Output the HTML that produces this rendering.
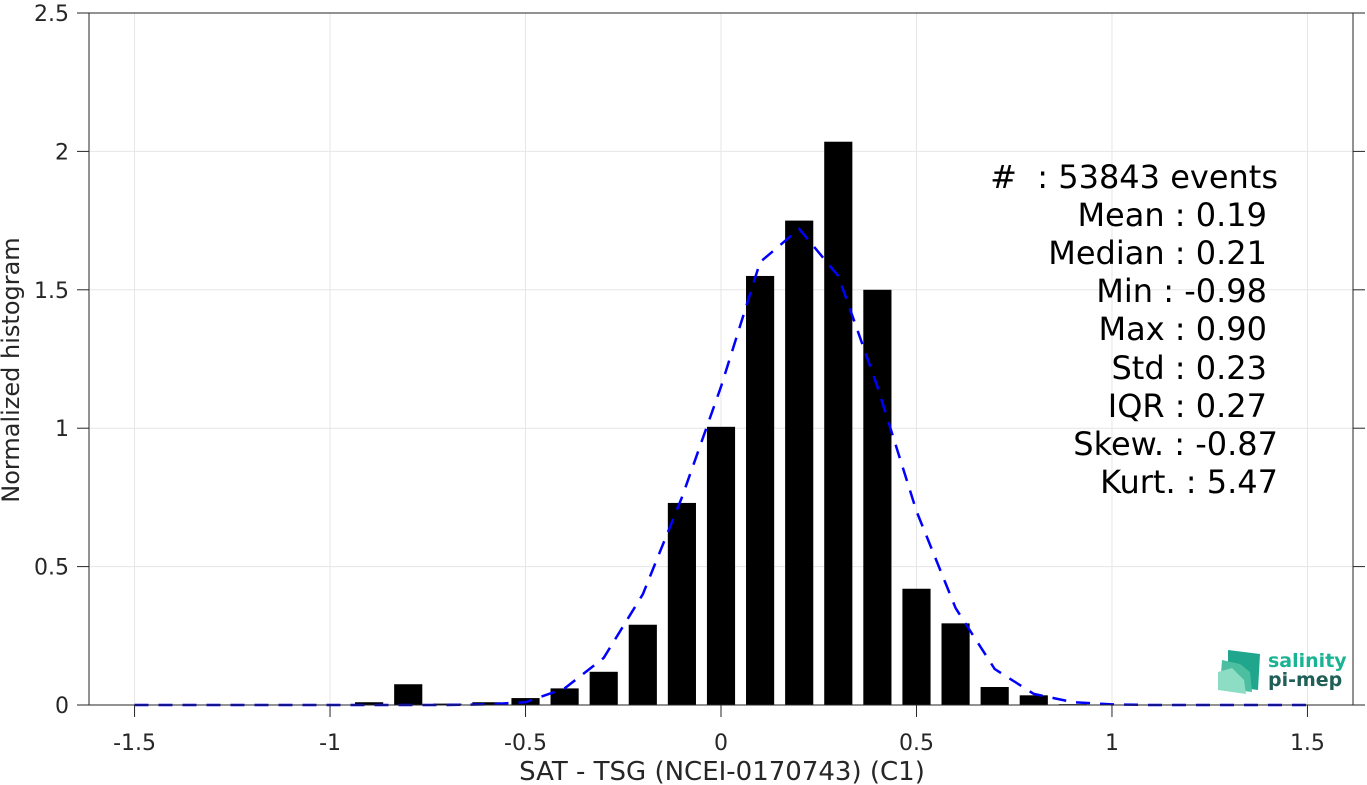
<!DOCTYPE html>
<html><head><meta charset="utf-8"><style>
html,body{margin:0;padding:0;background:#fff}
svg{display:block;font-family:"DejaVu Sans","Liberation Sans",sans-serif}
text{white-space:pre}
</style></head><body>
<svg id="chart" width="1367" height="785">
<g id="grid"></g>
<g id="bars"></g>
<path id="fit" fill="none" stroke="#0000ff" stroke-width="2.5" stroke-dasharray="14,10"/>
<g id="axes"></g>
<text x="722" y="780" font-size="26" text-anchor="middle" fill="#262626">SAT - TSG (NCEI-0170743) (C1)</text>
<text transform="translate(19,370) rotate(-90)" font-size="24" text-anchor="middle" fill="#262626">Normalized histogram</text>
<g font-size="32" fill="#000" text-anchor="end">
<text x="1278" y="188" xml:space="preserve">#  : 53843 events</text>
<text x="1267" y="226">Mean : 0.19</text>
<text x="1267" y="264">Median : 0.21</text>
<text x="1267" y="302">Min : -0.98</text>
<text x="1267" y="340">Max : 0.90</text>
<text x="1267" y="379">Std : 0.23</text>
<text x="1267" y="417">IQR : 0.27</text>
<text x="1278" y="455">Skew. : -0.87</text>
<text x="1278" y="493">Kurt. : 5.47</text>
</g>
<g>
<polygon points="1228,650 1260,654 1258,690 1228,686" fill="#1fa68c"/>
<polygon points="1222,660 1240,664 1250,672 1252,692 1220,688" fill="#4cbfa0"/>
<polygon points="1218,672 1232,668 1244,680 1246,694 1218,690" fill="#8ddcc4"/>
<text x="1268" y="667" font-size="19" font-weight="bold" fill="#1ab394">salinity</text>
<text x="1268" y="686" font-size="19" font-weight="bold" fill="#1f5f57">pi-mep</text>
</g>
</svg>
<script>
const binCenters=[-0.9,-0.8,-0.7,-0.6,-0.5,-0.4,-0.3,-0.2,-0.1,0,0.1,0.2,0.3,0.4,0.5,0.6,0.7,0.8,0.9];
const binValues=[0.01,0.075,0.005,0.01,0.025,0.06,0.12,0.29,0.73,1.005,1.55,1.75,2.035,1.5,0.42,0.295,0.065,0.035,0.003];
const fitX=[-1.5,-1.4,-1.3,-1.2,-1.1,-1.0,-0.9,-0.8,-0.7,-0.6,-0.5,-0.4,-0.3,-0.2,-0.1,0,0.1,0.2,0.3,0.4,0.5,0.6,0.7,0.8,0.9,1.0,1.1,1.2,1.3,1.4,1.5];
const fitY=[0,0,0,0,0,0,0,0,0,0.002,0.01,0.06,0.17,0.4,0.75,1.15,1.6,1.72,1.55,1.15,0.7,0.35,0.13,0.04,0.01,0.002,0,0,0,0,0];
const xTicks=[-1.5,-1,-0.5,0,0.5,1,1.5];
const xTickLabels=["-1.5","-1","-0.5","0","0.5","1","1.5"];
const yTicks=[0,0.5,1,1.5,2,2.5];
const yTickLabels=["0","0.5","1","1.5","2","2.5"];
const L=89,R=1353,T=13,B=705,X0=-1.6165,X1=1.6165,Y0=0,Y1=2.5;
const sx=v=>L+(v-X0)/(X1-X0)*(R-L);
const sy=v=>B-(v-Y0)/(Y1-Y0)*(B-T);
const NS="http://www.w3.org/2000/svg";
function mk(tag,parent,attrs){const e=document.createElementNS(NS,tag);for(const k in attrs)e.setAttribute(k,attrs[k]);parent.appendChild(e);return e;}
const grid=document.getElementById('grid'),axes=document.getElementById('axes'),bars=document.getElementById('bars');
xTicks.forEach((t,i)=>{
 const g=mk('line',grid,{x1:sx(t),x2:sx(t),y1:T,y2:B,stroke:'#e6e6e6','stroke-width':1});
 
 
 const tk=mk('line',axes,{x1:sx(t),x2:sx(t),y1:B,y2:B+12,stroke:'#262626','stroke-width':1});
 
 
 const lb=mk('text',axes,{x:sx(t),y:750,'font-size':22,'text-anchor':'middle',fill:'#262626'});
 lb.textContent=xTickLabels[i];
 
 
});
yTicks.forEach((t,i)=>{
 const g=mk('line',grid,{x1:L,x2:R,y1:sy(t),y2:sy(t),stroke:'#e6e6e6','stroke-width':1});
 
 
 const tk=mk('line',axes,{x1:L-12,x2:L,y1:sy(t),y2:sy(t),stroke:'#262626'});
 
 
 const tr=mk('line',axes,{x1:R,x2:R+12,y1:sy(t),y2:sy(t),stroke:'#262626'});
 
 
 const lb=mk('text',axes,{x:L-20,y:sy(t)+8,'font-size':22,'text-anchor':'end',fill:'#262626'});
 lb.textContent=yTickLabels[i];
 
 
});
const bw=0.072;
binCenters.forEach((c,i)=>{
 const x1=sx(c-bw/2),x2=sx(c+bw/2),y=sy(binValues[i]);
 const r=mk('rect',bars,{x:x1,y:y,width:x2-x1,height:Math.max(B-y,1),fill:'#000'});
 
 
});
document.getElementById('fit').setAttribute('d',fitX.map((x,i)=>(i?'L':'M')+sx(x).toFixed(1)+','+sy(fitY[i]).toFixed(1)).join(' '));
const box=mk('rect',axes,{x:L,y:T,width:R-L,height:B-T,fill:'none',stroke:'#262626','stroke-width':1});


</script>
</body></html>
